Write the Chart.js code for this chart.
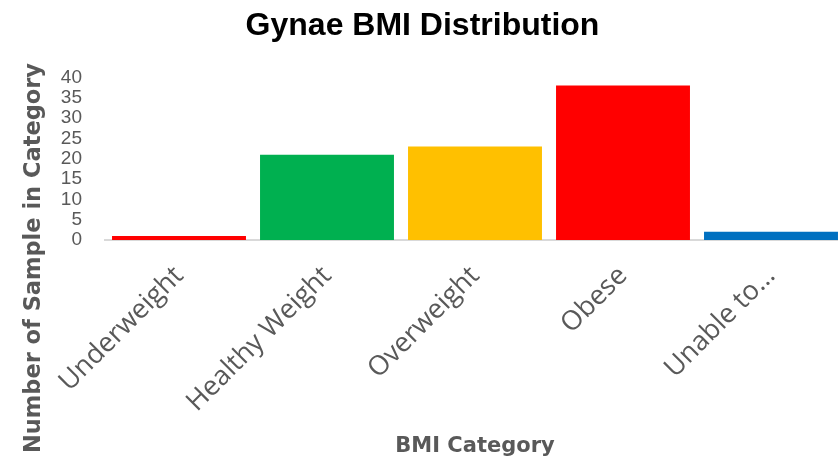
<!DOCTYPE html>
<html>
<head>
<meta charset="utf-8">
<script src="https://cdn.jsdelivr.net/npm/chart.js@4/dist/chart.umd.min.js"></script>
<style>
  html, body { margin: 0; padding: 0; background: #fff; overflow: hidden; }
  #wrap { width: 860px; height: 461px; }
</style>
</head>
<body>
<div id="wrap"><canvas id="bmi" width="860" height="461"></canvas></div>
<script>
const categories = ['Underweight', 'Healthy Weight', 'Overweight', 'Obese', 'Unable to…'];
const counts = [1, 21, 23, 38, 2];
const barColors = ['#FF0000', '#00B050', '#FFC000', '#FF0000', '#0070C0'];
const yTicks = [0, 5, 10, 15, 20, 25, 30, 35, 40];

const grey = '#595959';

// rotated y-axis caption, centred lower than the plot like the Excel one
const yCaption = {
  id: 'yCaption',
  afterDraw(chart) {
    const ctx = chart.ctx;
    ctx.save();
    ctx.translate(34, 258);
    ctx.rotate(-Math.PI / 2);
    ctx.font = 'bold 22.5px "DejaVu Sans"';
    ctx.fillStyle = grey;
    ctx.textAlign = 'center';
    ctx.textBaseline = 'middle';
    ctx.fillText('Number of Sample in Category', 0, 0);
    ctx.restore();
  }
};

const chart = new Chart(document.getElementById('bmi').getContext('2d'), {
  type: 'bar',
  data: {
    labels: categories,
    datasets: [{
      label: 'Count',
      data: counts,
      backgroundColor: barColors,
      borderWidth: 0,
      barPercentage: 0.905,
      categoryPercentage: 1
    }]
  },
  options: {
    responsive: false,
    animation: false,
    layout: { padding: { left: 0, right: 15, top: 0, bottom: 0 } },
    plugins: {
      legend: { display: false },
      tooltip: { enabled: false },
      title: {
        display: true,
        text: 'Gynae BMI Distribution',
        color: '#000',
        font: { family: '"Liberation Sans"', size: 32, weight: 'bold' },
        padding: { top: 7, bottom: 32 }
      }
    },
    scales: {
      x: {
        grid: { display: false, drawTicks: false },
        border: { display: true, color: '#D9D9D9', width: 2 },
        ticks: {
          color: grey,
          font: { family: '"Open Sans"', size: 27 },
          minRotation: 45,
          maxRotation: 45,
          padding: 20,
          autoSkip: false
        },
        title: {
          display: true,
          text: 'BMI Category',
          color: grey,
          font: { family: '"DejaVu Sans"', size: 21, weight: 'bold' },
          padding: { top: 0, bottom: 2 }
        },
        afterFit(s) { s.height = 221; }
      },
      y: {
        min: 0,
        max: 40,
        afterBuildTicks(s) { s.ticks = yTicks.map(v => ({ value: v })); },
        grid: { display: false, drawTicks: false },
        border: { display: false },
        ticks: {
          color: grey,
          font: { family: '"Liberation Sans"', size: 19 },
          padding: 23,
          autoSkip: false
        },
        afterFit(s) { s.width = 105; }
      }
    }
  },
  plugins: [yCaption]
});
</script>
</body>
</html>
